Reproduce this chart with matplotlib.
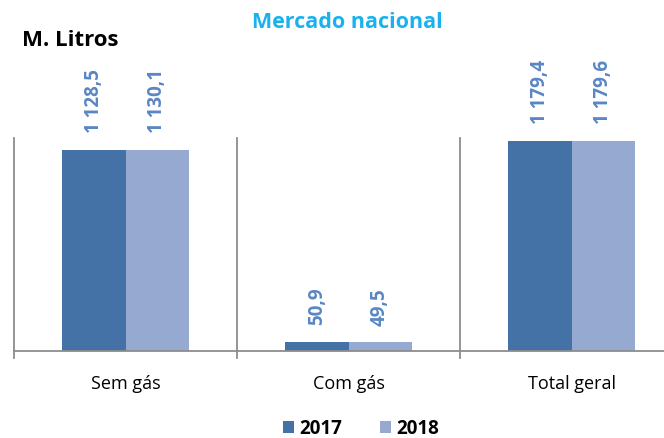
import matplotlib
matplotlib.use('Agg')
import matplotlib.pyplot as plt
import numpy as np

categories = ['Sem gás', 'Com gás', 'Total geral']
years = ['2017', '2018']
values_2017 = [1128.5, 50.9, 1179.4]
values_2018 = [1130.1, 49.5, 1179.6]
labels_2017 = ['1 128,5', '50,9', '1 179,4']
labels_2018 = ['1 130,1', '49,5', '1 179,6']

COLOR_2017 = '#4472a7'
COLOR_2018 = '#95a9d1'
LABEL_COLOR = '#5a86c4'
GRID_COLOR = '#8c8c8c'

plt.rcParams['font.family'] = ['Open Sans', 'DejaVu Sans']

fig = plt.figure(figsize=(6.64, 4.38), dpi=100)
ax = fig.add_axes([14 / 664, 1 - 351 / 438, 669 / 664, 213 / 438])

x = np.arange(len(categories))
width = 0.283
bars17 = ax.bar(x - width / 2, values_2017, width, color=COLOR_2017, label=years[0])
bars18 = ax.bar(x + width / 2, values_2018, width, color=COLOR_2018, label=years[1])

for bars, labels in [(bars17, labels_2017), (bars18, labels_2018)]:
    for b, lab in zip(bars, labels):
        ax.annotate(lab, (b.get_x() + b.get_width() / 2, b.get_height()),
                    xytext=(0, 12), textcoords='offset points',
                    rotation=90, ha='center', va='bottom',
                    color=LABEL_COLOR, fontweight='bold', fontsize=13.5)

ax.set_xlim(-0.5, len(categories) - 0.5)
ax.set_ylim(0, 1196)
ax.set_yticks([])
for s in ['top', 'right', 'left']:
    ax.spines[s].set_visible(False)
ax.spines['bottom'].set_color(GRID_COLOR)
ax.spines['bottom'].set_linewidth(1.3)

# category separators
for xs in np.arange(-0.5, len(categories) + 0.5, 1.0):
    ax.plot([xs, xs], [-0.035, 1.0], transform=ax.get_xaxis_transform(),
            color=GRID_COLOR, lw=1.3, clip_on=False)

ax.set_xticks(x)
ax.set_xticklabels(categories, fontsize=13)
ax.tick_params(axis='x', length=0, pad=17)

fig.text(347 / 664, 1 - 23 / 438, 'Mercado nacional', color='#19b2ef',
         fontsize=15.5, fontweight='bold', ha='center', va='center')
fig.text(22 / 664, 1 - 40 / 438, 'M. Litros', color='black',
         fontsize=16, fontweight='bold', ha='left', va='center')

fig.legend(loc='center', bbox_to_anchor=(361 / 664, 1 - 429 / 438), ncol=2,
           frameon=False, prop={'weight': 'bold', 'size': 13.5},
           handlelength=0.6, handleheight=0.6, handletextpad=0.3,
           columnspacing=2.0)

fig.savefig('out.png', dpi=100)
